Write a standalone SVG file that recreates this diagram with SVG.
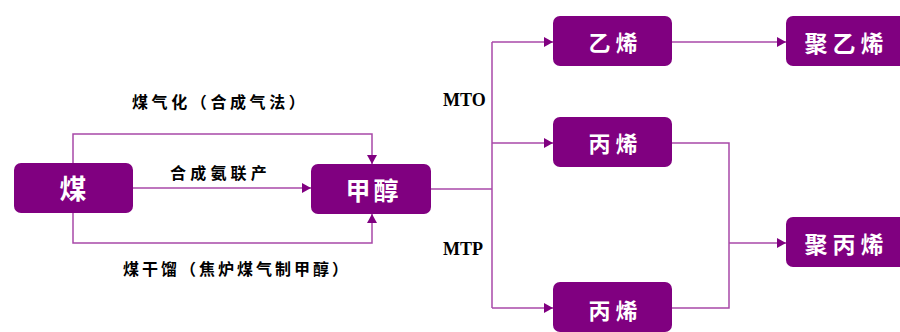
<svg xmlns="http://www.w3.org/2000/svg" width="900" height="332" viewBox="0 0 900 332">
<style>
.box{fill:#800080;}
.bt{fill:#ffffff;font-family:"Noto Sans CJK SC","Noto Sans",sans-serif;font-weight:bold;text-anchor:middle;}
.lb{fill:#000000;font-family:"Noto Sans CJK SC","Noto Sans",sans-serif;font-weight:bold;font-size:16px;}
.en{fill:#000000;font-family:"Liberation Serif",serif;font-weight:bold;font-size:18px;}
.ln{fill:none;stroke:#a848a8;stroke-width:1.5;}
</style>
<defs>
<marker id="ah" markerUnits="userSpaceOnUse" markerWidth="9" markerHeight="10" refX="9" refY="5" orient="auto">
<path d="M0,0 L9,5 L0,10 z" fill="#800080"/>
</marker>
</defs>
<g id="connectors">
<path class="ln" d="M73,163 V134 H372 V164" marker-end="url(#ah)"/>
<path class="ln" d="M133,188 H311" marker-end="url(#ah)"/>
<path class="ln" d="M73,213 V243 H372 V214" marker-end="url(#ah)"/>
<path class="ln" d="M431,189 H492"/>
<path class="ln" d="M492,42 V308"/>
<path class="ln" d="M492,42 H553" marker-end="url(#ah)"/>
<path class="ln" d="M492,143 H553" marker-end="url(#ah)"/>
<path class="ln" d="M492,308 H553" marker-end="url(#ah)"/>
<path class="ln" d="M672,42 H786" marker-end="url(#ah)"/>
<path class="ln" d="M672,143 H729 V308 H672"/>
<path class="ln" d="M729,243 H786" marker-end="url(#ah)"/>
</g>
<g id="labels">
<text class="lb" x="132" y="108" style="letter-spacing:3.6px">煤气化（合成气法）</text>
<text class="lb" x="170" y="179" style="letter-spacing:4.2px">合成氨联产</text>
<text class="lb" x="123" y="275" style="letter-spacing:3px">煤干馏（焦炉煤气制甲醇）</text>
<text class="en" x="443" y="106">MTO</text>
<text class="en" x="443" y="255">MTP</text>
</g>
<g id="node-coal">
<rect class="box" x="14" y="163" width="119" height="50" rx="7"/>
<text class="bt" x="73" y="199" font-size="27">煤</text>
</g>
<g id="node-methanol">
<rect class="box" x="311" y="164" width="120" height="50" rx="7"/>
<text class="bt" x="373.5" y="200" font-size="25" style="letter-spacing:3px">甲醇</text>
</g>
<g id="node-ethylene">
<rect class="box" x="553" y="16" width="119" height="50" rx="7"/>
<text class="bt" x="615.5" y="51" font-size="22" style="letter-spacing:5px">乙烯</text>
</g>
<g id="node-propylene-mto">
<rect class="box" x="553" y="117" width="119" height="50" rx="7"/>
<text class="bt" x="615.5" y="152" font-size="22" style="letter-spacing:5px">丙烯</text>
</g>
<g id="node-propylene-mtp">
<rect class="box" x="553" y="282" width="119" height="50" rx="7"/>
<text class="bt" x="615.5" y="319" font-size="22" style="letter-spacing:5px">丙烯</text>
</g>
<g id="node-polyethylene">
<rect class="box" x="786" y="16" width="120" height="50" rx="7"/>
<text class="bt" x="846.5" y="52" font-size="23" style="letter-spacing:5px">聚乙烯</text>
</g>
<g id="node-polypropylene">
<rect class="box" x="786" y="217" width="120" height="50" rx="7"/>
<text class="bt" x="846.5" y="253" font-size="23" style="letter-spacing:5px">聚丙烯</text>
</g>
</svg>
